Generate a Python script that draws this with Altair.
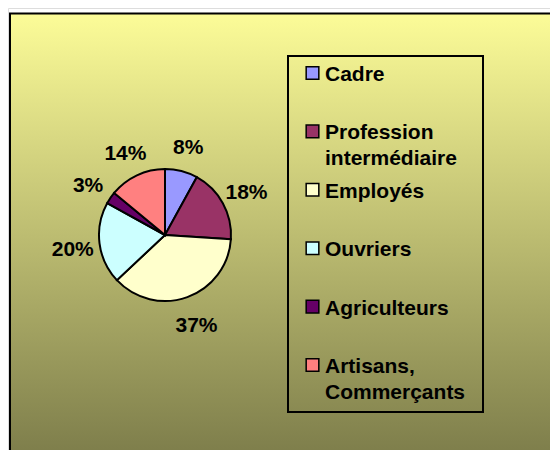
import altair as alt
import pandas as pd

categories = ["Cadre", "Profession\nintermédiaire", "Employés", "Ouvriers", "Agriculteurs", "Artisans,\nCommerçants"]
values = [8, 18, 37, 20, 3, 14]
labels = ["8%", "18%", "37%", "20%", "3%", "14%"]
colors = ["#9999FF", "#993366", "#FFFFCC", "#CCFFFF", "#660066", "#FF8080"]

df = pd.DataFrame({
    "cat": categories,
    "value": values,
    "label": labels,
    "idx": list(range(len(categories))),
})

FONT = "Liberation Sans"
FS = 21
color_scale = alt.Scale(domain=categories, range=colors)
one = pd.DataFrame({"a": [0]})

# background frame with gradient
frame = alt.Chart(one).mark_rect(
    fill=alt.Gradient(
        gradient="linear",
        stops=[alt.GradientStop(color="#FCFC98", offset=0),
               alt.GradientStop(color="#7C7C4A", offset=1)],
        x1=0, x2=0, y1=0, y2=1,
    ),
    stroke="black", strokeWidth=2,
).encode(x=alt.value(2), x2=alt.value(560), y=alt.value(5.5), y2=alt.value(452))

base = alt.Chart(df).encode(
    theta=alt.Theta("value:Q", stack=True),
    order=alt.Order("idx:Q"),
    x=alt.value(157),
    y=alt.value(227),
)
pie = base.mark_arc(outerRadius=66, stroke="black", strokeWidth=2).encode(
    color=alt.Color("cat:N", scale=color_scale, legend=None)
)
pie_text = base.mark_text(radius=93, dy=3, font=FONT, fontWeight="bold", fontSize=FS, color="black").encode(
    text="label:N"
)

legend_box = alt.Chart(one).mark_rect(fill="transparent", stroke="black", strokeWidth=2).encode(
    x=alt.value(280), x2=alt.value(475), y=alt.value(48), y2=alt.value(404)
)

ypos = alt.Y("cat:N", scale=alt.Scale(domain=categories, range=[65, 357], padding=0), axis=None)
leg_sq = alt.Chart(df).mark_square(size=160, stroke="black", strokeWidth=1.5, opacity=1).encode(
    x=alt.value(304.5), y=ypos,
    fill=alt.Color("cat:N", scale=color_scale, legend=None),
)
leg_txt = alt.Chart(df).mark_text(
    align="left", baseline="top", dy=-9, lineBreak="\n", lineHeight=26,
    font=FONT, fontWeight="bold", fontSize=FS, color="black",
).encode(x=alt.value(317), y=ypos, text="cat:N")

chart = alt.layer(frame, pie, pie_text, legend_box, leg_sq, leg_txt).properties(
    width=542, height=442, autosize=alt.AutoSizeParams(type="none"), padding=0,
).configure_view(stroke=None).configure(background="white")

chart.save("out.html", embed_options={"renderer": "svg", "actions": False})
